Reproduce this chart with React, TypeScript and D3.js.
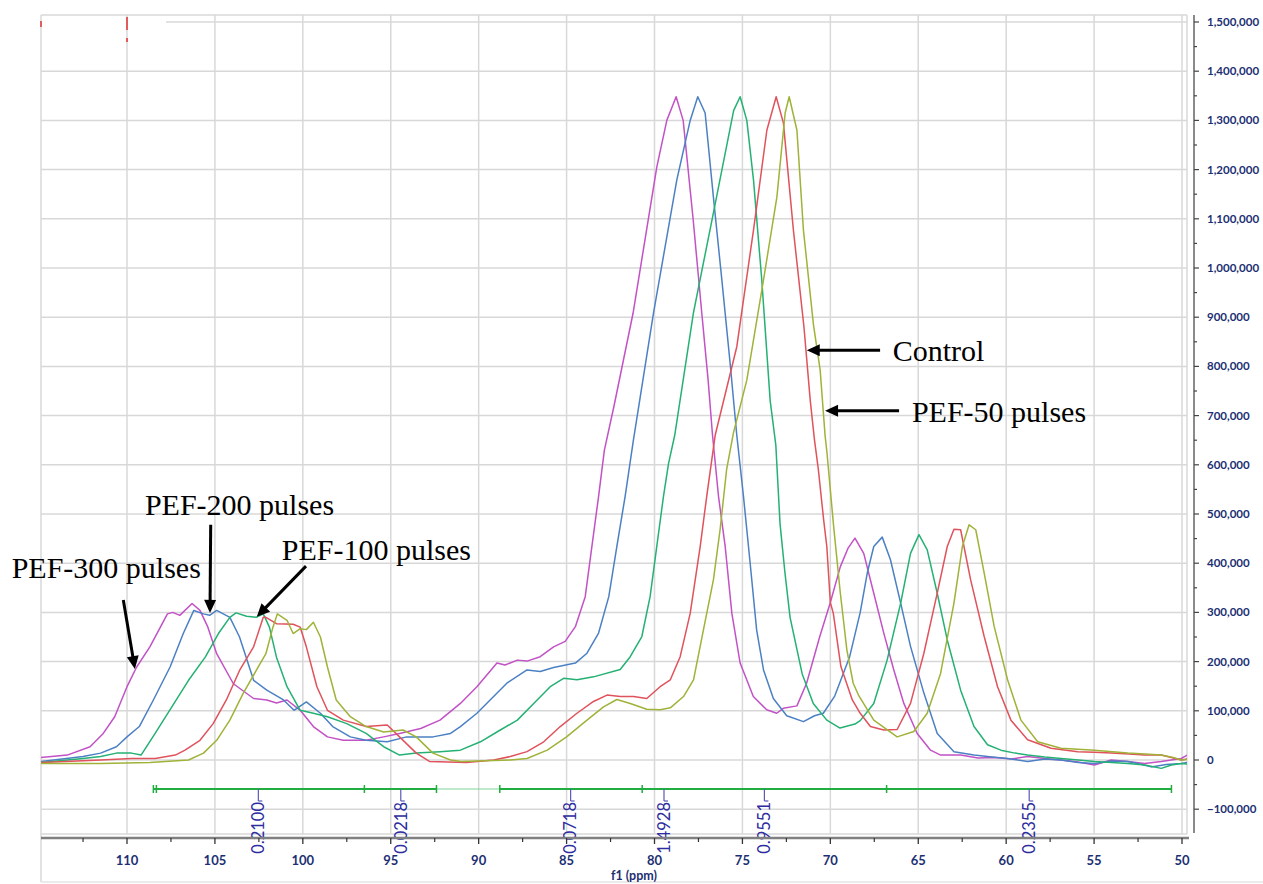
import React from "react";
import * as d3 from "d3";

// ---------- data (ppm, intensity in thousands) ----------
const pef300: [number, number][] = [
  [114.9, 5], [113.4, 10], [112.1, 27], [111.35, 54], [110.7, 88], [110.0, 149], [109.45, 189], [108.7, 230],
  [107.7, 297], [107.4, 300], [107.0, 294], [106.3, 318], [105.85, 304], [105.4, 270], [104.9, 216], [103.95, 155],
  [102.8, 125], [102.05, 122], [101.5, 116], [100.9, 122], [100.15, 101], [99.4, 68], [98.6, 47], [97.7, 40],
  [96.4, 40], [95.4, 47], [94.5, 54], [93.3, 64], [92.2, 81], [91.04, 115], [90.1, 149], [88.96, 197],
  [88.5, 193], [87.8, 203], [87.25, 201], [86.5, 210], [85.74, 230], [85.08, 241], [84.5, 271], [83.94, 332],
  [83.56, 434], [83.18, 536], [82.85, 630], [82.3, 720], [81.22, 908], [79.87, 1205], [79.3, 1300], [78.77, 1348],
  [78.37, 1300], [77.8, 1098], [77.31, 908], [76.95, 772], [76.7, 660], [76.36, 536], [75.98, 434], [75.6, 298],
  [75.13, 197], [74.38, 129], [73.62, 102], [73.05, 95], [72.67, 105], [71.9, 110], [71.35, 156], [70.6, 251],
  [70.0, 320], [69.43, 393], [69.0, 430], [68.6, 451], [68.1, 420], [67.53, 339], [66.96, 258], [66.39, 183],
  [65.82, 115], [65.06, 54], [64.3, 20], [63.73, 10], [62.59, 10], [61.6, 4], [60.68, 5], [59.7, 2], [58.78, 7],
  [57.8, 3], [56.88, 0], [55.9, -4], [54.98, -10], [54.03, 0], [53.08, -3], [52.13, -7], [51.18, -3], [50.04, 3], [49.7, 10],
];

const pef200: [number, number][] = [
  [114.9, -3], [112.5, 7], [111.5, 14], [110.6, 27], [110.0, 47], [109.3, 68], [108.5, 122], [107.55, 189],
  [106.8, 257], [106.2, 304], [105.65, 297], [105.3, 294], [104.9, 304], [104.15, 290], [103.6, 250], [102.8, 162],
  [102.05, 142], [101.1, 122], [100.5, 101], [99.8, 118], [99.0, 95], [98.3, 68], [97.3, 47], [96.4, 40],
  [95.2, 37], [94.1, 47], [92.6, 47], [91.6, 54], [91.04, 68], [90.1, 95], [89.15, 129], [88.4, 156],
  [87.25, 183], [86.5, 180], [85.74, 188], [84.5, 197], [83.84, 217], [83.18, 258], [82.6, 332], [82.14, 434],
  [81.67, 536], [81.2, 650], [80.06, 908], [78.73, 1179], [77.97, 1300], [77.54, 1348], [77.12, 1315], [76.65, 1144],
  [76.17, 976], [75.7, 807], [75.32, 660], [74.94, 536], [74.56, 400], [74.19, 264], [73.8, 183], [73.24, 125],
  [72.48, 90], [71.53, 78], [70.9, 90], [70.4, 95], [69.75, 130], [68.9, 210], [68.3, 300], [67.9, 380],
  [67.53, 434], [67.05, 453], [66.58, 407], [66.0, 319], [65.44, 231], [64.68, 136], [63.92, 54], [62.97, 17],
  [61.83, 10], [60.8, 6], [59.92, 3], [58.78, -3], [57.8, 2], [56.88, 0], [55.9, -5], [54.98, -7], [54.0, -2],
  [53.08, -3], [52.4, -8], [51.75, -14], [50.9, -9], [50.04, -7], [49.7, -5],
];

const pef100: [number, number][] = [
  [114.9, -5], [112.5, 3], [111.5, 7], [110.6, 14], [109.75, 14], [109.2, 10], [108.4, 54], [107.45, 108],
  [106.5, 162], [105.55, 209], [104.8, 257], [104.15, 290], [103.8, 299], [103.2, 292], [102.65, 290], [102.25, 297],
  [101.9, 270], [101.5, 209], [100.9, 149], [100.15, 101], [99.4, 95], [98.6, 88], [97.5, 74], [96.4, 54],
  [95.4, 27], [94.5, 10], [93.55, 14], [92.2, 17], [91.04, 20], [89.9, 37], [88.77, 61], [87.8, 81],
  [86.87, 115], [85.93, 149], [85.17, 166], [84.41, 163], [83.47, 169], [81.95, 184], [81.38, 210], [80.72, 251],
  [80.25, 332], [79.87, 434], [79.49, 536], [79.2, 603], [78.85, 660], [77.79, 908], [76.65, 1112], [75.5, 1320],
  [75.13, 1348], [74.75, 1300], [74.37, 1179], [73.9, 976], [73.42, 730], [73.1, 640], [72.86, 480], [72.58, 380],
  [72.29, 290], [71.9, 225], [71.6, 175], [70.97, 115], [70.2, 81], [69.45, 65], [68.6, 73], [68.3, 80],
  [67.53, 115], [66.77, 203], [66.0, 319], [65.44, 420], [64.96, 458], [64.49, 427], [63.92, 339], [63.35, 244],
  [62.59, 142], [61.83, 68], [61.06, 31], [60.3, 20], [59.5, 14], [58.78, 10], [57.8, 6], [56.88, 3], [55.9, 0],
  [54.98, -3], [54.0, -5], [53.08, -7], [52.1, -10], [51.18, -17], [50.6, -10], [50.04, -7], [49.7, -8],
];

const control: [number, number][] = [
  [114.9, -5], [111.5, 0], [109.75, 3], [108.4, 3], [107.25, 10], [106.7, 20], [105.85, 40], [105.1, 74],
  [104.35, 122], [103.6, 182], [102.8, 230], [102.25, 290], [102.1, 290], [101.5, 277], [100.55, 276], [100.15, 270],
  [99.8, 230], [99.2, 149], [98.6, 101], [97.7, 81], [96.4, 68], [95.2, 71], [94.5, 47], [93.55, 14],
  [92.8, -3], [90.7, -5], [89.15, 0], [88.2, 7], [87.25, 17], [86.3, 37], [85.36, 68], [84.41, 95],
  [83.47, 119], [82.7, 132], [81.95, 129], [81.19, 129], [80.44, 125], [79.68, 149], [79.1, 163], [78.54, 210],
  [77.97, 298], [77.4, 434], [77.03, 536], [76.55, 660], [75.32, 840], [74.37, 1077], [73.61, 1280], [73.08, 1348],
  [72.67, 1295], [72.1, 1077], [71.5, 880], [71.14, 730], [70.9, 650], [70.68, 590], [70.38, 488], [70.2, 434],
  [70.0, 320], [69.83, 298], [69.4, 190], [68.75, 122], [68.3, 95], [67.72, 68], [66.96, 61], [66.2, 62],
  [65.44, 115], [64.68, 217], [63.92, 339], [63.35, 434], [62.97, 469], [62.59, 468], [62.02, 366], [61.25, 251],
  [60.49, 149], [59.73, 81], [58.78, 41], [57.45, 24], [55.93, 17], [55.0, 16], [54.03, 14], [53.0, 12],
  [52.13, 10], [51.18, 10], [50.5, 4], [50.04, 0], [49.7, 2],
];

const pef50: [number, number][] = [
  [114.9, -7], [111.5, -7], [108.7, -5], [106.5, 0], [105.65, 14], [104.9, 40], [104.15, 81], [103.4, 135],
  [102.65, 182], [102.1, 216], [101.7, 270], [101.45, 297], [100.9, 284], [100.55, 257], [100.15, 267], [99.8, 265],
  [99.4, 280], [99.0, 250], [98.6, 189], [98.1, 122], [97.3, 88], [96.4, 68], [95.4, 57], [94.3, 61],
  [93.55, 47], [92.6, 14], [91.6, 0], [91.0, -3], [88.2, 0], [87.25, 3], [86.1, 20], [85.0, 47],
  [83.84, 81], [82.9, 108], [82.14, 123], [81.38, 115], [80.44, 103], [79.68, 102], [79.1, 106], [78.35, 129],
  [77.78, 163], [77.22, 264], [76.65, 366], [76.27, 468], [75.9, 590], [75.51, 665], [74.75, 772], [73.8, 976],
  [73.04, 1144], [72.57, 1315], [72.34, 1348], [71.9, 1280], [71.53, 1077], [70.96, 885], [70.58, 793], [70.3, 660],
  [70.19, 624], [69.82, 478], [69.44, 342], [69.06, 224], [68.7, 156], [68.4, 132], [67.53, 81], [66.2, 47],
  [65.25, 58], [64.49, 95], [63.73, 176], [62.97, 319], [62.49, 434], [62.11, 478], [61.73, 468], [61.25, 380],
  [60.68, 271], [59.92, 163], [59.16, 81], [58.21, 37], [56.88, 24], [54.98, 20], [53.08, 14], [52.1, 12],
  [51.18, 10], [50.5, 5], [50.04, 0], [49.7, 1],
];

const seriesNames = ["PEF-300 pulses", "PEF-200 pulses", "PEF-100 pulses", "Control", "PEF-50 pulses"];
const seriesData = [pef300, pef200, pef100, control, pef50];
const seriesColors = ["#c252c6", "#4c80c4", "#24b173", "#e0525c", "#a0b238"];

const xTicks = [110, 105, 100, 95, 90, 85, 80, 75, 70, 65, 60, 55, 50];
const xMinorTicks = [112.5, 107.5, 102.5, 97.5, 92.5, 87.5, 82.5, 77.5, 72.5, 67.5, 62.5, 57.5, 52.5];
const yTicks = [-100000, 0, 100000, 200000, 300000, 400000, 500000, 600000, 700000, 800000, 900000,
  1000000, 1100000, 1200000, 1300000, 1400000, 1500000];

const integralBounds = [108.5, 96.5, 92.4, 88.8, 80.7, 66.8, 50.6];
const integralValues = ["0.2100", "0.0218", "0.0718", "1.4928", "0.9551", "0.2355"];
const integralLabelPpm = [102.53, 94.43, 84.77, 79.46, 73.75, 58.69];

// annotations: label, text position, arrow from, arrow to  (ppm, intensity in thousands)
const annotLabels = ["Control", "PEF-50 pulses", "PEF-300 pulses", "PEF-200 pulses", "PEF-100 pulses"];
const annotTextPos: [number, number][] = [[66.45, 811], [65.36, 687], [116.56, 369], [108.98, 498], [101.2, 406]];
const annotArrowFrom: [number, number][] = [[67.17, 833], [66.09, 710], [110.21, 325], [105.24, 478], [99.82, 394]];
const annotArrowTo: [number, number][] = [[71.34, 833], [70.3, 710], [109.55, 185], [105.28, 299], [102.62, 291]];

export default function App() {
  const W = 1263, H = 884;
  const left = 41, right = 1187, top = 15, bottom = 834;
  const x = d3.scaleLinear().domain([110, 50]).range([127, 1182]);
  const y = d3.scaleLinear().domain([0, 1500000]).range([760, 22]);
  const line = d3.line<[number, number]>().x(d => x(d[0])).y(d => y(d[1] * 1000));
  const fmt = d3.format(",");
  const navy = "#1c2f73";
  const grid = "#d8d8d8";
  const barY = 789;

  const arrowHead = (x1: number, y1: number, x2: number, y2: number) => {
    const a = Math.atan2(y2 - y1, x2 - x1);
    const L = 13, w = 6;
    const bx = x2 - L * Math.cos(a), by = y2 - L * Math.sin(a);
    const px = -Math.sin(a) * w, py = Math.cos(a) * w;
    return `${x2},${y2} ${bx + px},${by + py} ${bx - px},${by - py}`;
  };

  return (
    <svg width={W} height={H} style={{ position: "absolute", left: 0, top: 0, background: "#fff" }}>
      <defs>
        <clipPath id="plotclip">
          <rect x={left} y={top} width={right - left} height={bottom - top} />
        </clipPath>
      </defs>
      <rect x={0} y={0} width={W} height={H} fill="#fff" />
      {/* grid */}
      {xTicks.map(t => (
        <line key={"gx" + t} x1={x(t)} x2={x(t)} y1={top} y2={bottom} stroke={grid} strokeWidth={1.5} />
      ))}
      {yTicks.map(t => (
        <line key={"gy" + t} x1={t === 1500000 ? 166 : left} x2={right} y1={y(t)} y2={y(t)} stroke={grid} strokeWidth={1.5} />
      ))}
      <line x1={left} x2={right} y1={top} y2={top} stroke={grid} strokeWidth={1.5} />
      <line x1={left} x2={right} y1={bottom} y2={bottom} stroke={grid} strokeWidth={1.5} />
      <line x1={left} x2={left} y1={top} y2={882} stroke={grid} strokeWidth={1.5} />
      <line x1={right} x2={right} y1={top} y2={bottom} stroke={grid} strokeWidth={1.5} />
      <line x1={left} x2={W} y1={882} y2={882} stroke="#e4e4e4" strokeWidth={1.5} />
      {/* red marks top-left */}
      <line x1={41} x2={41} y1={21} y2={27} stroke="#e03030" strokeWidth={1.5} />
      <line x1={127} x2={127} y1={17} y2={30} stroke="#e03030" strokeWidth={1.5} />
      <line x1={127} x2={127} y1={38} y2={42} stroke="#e03030" strokeWidth={1.5} />

      {/* spectra */}
      <g clipPath="url(#plotclip)">
        {seriesData.map((s, i) => (
          <path key={seriesNames[i]} d={line(s) || ""} fill="none" stroke={seriesColors[i]} strokeWidth={1.5} strokeLinejoin="round" />
        ))}
      </g>

      {/* integration bar */}
      {integralBounds.slice(0, -1).map((b, i) => {
        const gap = i === 2;
        return (
          <line key={"ib" + i} x1={x(b)} x2={x(integralBounds[i + 1])} y1={barY} y2={barY}
            stroke={gap ? "#7fd49a" : "#1fae3f"} strokeWidth={gap ? 1.2 : 2} />
        );
      })}
      {integralBounds.map((b, i) => (
        <line key={"it" + i} x1={x(b)} x2={x(b)} y1={barY - 4} y2={barY + 4} stroke="#1fae3f" strokeWidth={1.5} />
      ))}
      <line x1={x(integralBounds[0]) + 3} x2={x(integralBounds[0]) + 3} y1={barY - 4} y2={barY + 4} stroke="#1fae3f" strokeWidth={1.5} />
      {integralValues.map((v, i) => {
        const px = x(integralLabelPpm[i]);
        return (
          <g key={"iv" + i}>
            <line x1={px} x2={px} y1={barY} y2={801} stroke="#5a5ab8" strokeWidth={1.2} />
            <line x1={px} x2={px + 4} y1={801} y2={801} stroke="#5a5ab8" strokeWidth={1.2} />
            <text transform={`translate(${px + 5.8},802) rotate(-90)`} textAnchor="end"
              fontFamily="Lato, 'Open Sans', sans-serif" fontSize={16.5} fill="#2d2da0">{v}</text>
          </g>
        );
      })}

      {/* x axis */}
      <line x1={left} x2={1189} y1={838} y2={838} stroke="#808080" strokeWidth={2.5} />
      {xTicks.map(t => (
        <g key={"xt" + t}>
          <line x1={x(t)} x2={x(t)} y1={838} y2={844} stroke="#333" strokeWidth={1.3} />
          <text x={x(t)} y={865} textAnchor="middle" fontFamily="Lato, sans-serif" fontWeight="bold" fontSize={13} fill={navy}>{t}</text>
        </g>
      ))}
      {xMinorTicks.map(t => (
        <line key={"xm" + t} x1={x(t)} x2={x(t)} y1={838} y2={842} stroke="#333" strokeWidth={1.2} />
      ))}
      <text x={634} y={879.5} textAnchor="middle" fontFamily="Lato, sans-serif" fontWeight="bold" fontSize={12.5} fill={navy}>f1 (ppm)</text>

      {/* y axis (right) */}
      <line x1={1194} x2={1194} y1={top} y2={833} stroke="#8a8a8a" strokeWidth={2} />
      {yTicks.map(t => (
        <g key={"yt" + t}>
          <line x1={1194} x2={1199} y1={y(t)} y2={y(t)} stroke="#444" strokeWidth={1.2} />
          <line x1={1194} x2={1197} y1={y(t + 50000)} y2={y(t + 50000)} stroke="#444" strokeWidth={1.2} />
          <text x={1207} y={y(t) + 4} fontFamily="Lato, sans-serif" fontWeight="bold" fontSize={11.5} fill={navy}>{fmt(t)}</text>
        </g>
      ))}

      {/* annotations */}
      {annotLabels.map((lab, i) => {
        const [fx, fy] = annotArrowFrom[i];
        const [tx, ty] = annotArrowTo[i];
        const x1 = x(fx), y1 = y(fy * 1000), x2 = x(tx), y2 = y(ty * 1000);
        const a = Math.atan2(y2 - y1, x2 - x1);
        return (
          <g key={"an" + i}>
            <line x1={x1} y1={y1} x2={x2 - 10 * Math.cos(a)} y2={y2 - 10 * Math.sin(a)} stroke="#000" strokeWidth={3} />
            <polygon points={arrowHead(x1, y1, x2, y2)} fill="#000" />
            <text x={x(annotTextPos[i][0])} y={y(annotTextPos[i][1] * 1000)} fontFamily="'Liberation Serif', 'Times New Roman', serif"
              fontSize={30} fill="#000">{lab}</text>
          </g>
        );
      })}
    </svg>
  );
}
